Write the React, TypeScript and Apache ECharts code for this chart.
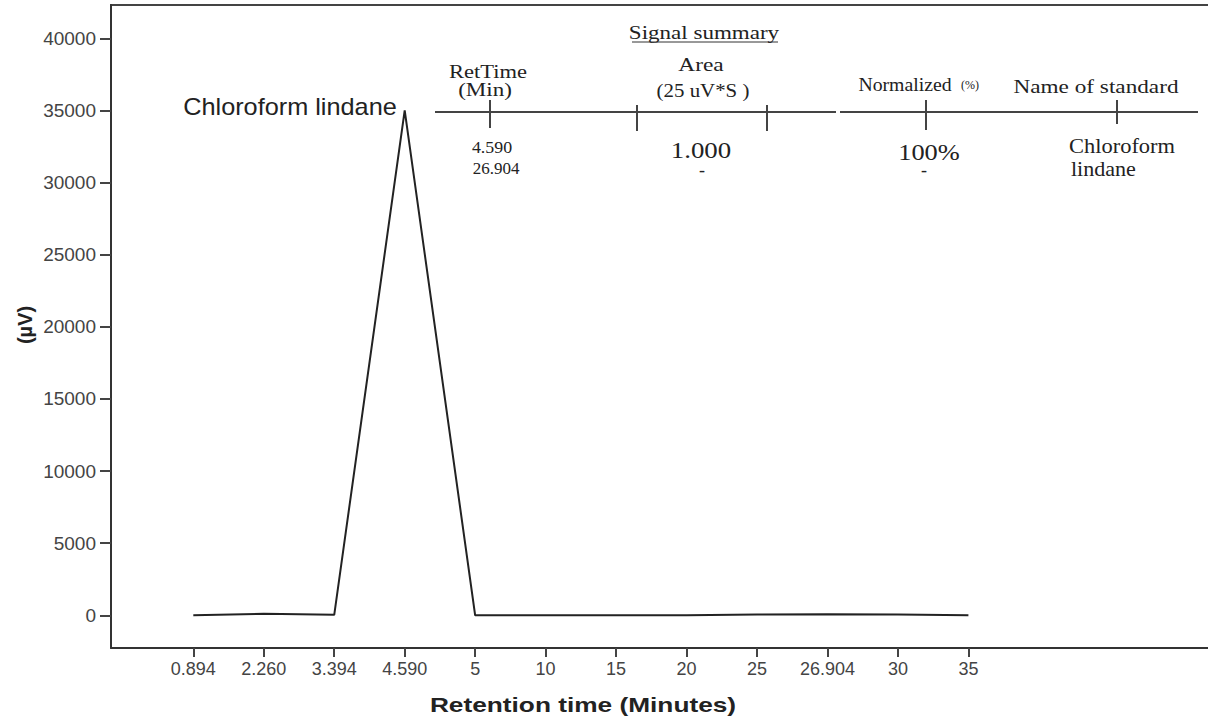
import React, { useEffect, useRef } from "react";
import * as echarts from "echarts";

const retentionLabels = ["0.894", "2.260", "3.394", "4.590", "5", "10", "15", "20", "25", "26.904", "30", "35"];
const signalValues = [0, 100, 30, 35000, 0, 0, 0, 0, 60, 70, 50, 0];
const yTickValues = [0, 5000, 10000, 15000, 20000, 25000, 30000, 35000, 40000];
const xTickIndices = retentionLabels.map((_, i) => i);

const peakName = "Chloroform lindane";
const summaryTitle = "Signal summary";
const retTimeRows = ["4.590", "26.904"];
const areaRows = ["1.000", "-"];
const normRows = ["100%", "-"];
const standardRows = ["Chloroform", "lindane"];

const SERIF = "Liberation Serif";
const SANS = "Liberation Sans";

function txt(text: string, x: number, y: number, size: number, scaleX = 1, align = "center", family = SERIF, weight = "normal", rotation = 0) {
  return {
    type: "text",
    x,
    y,
    scaleX,
    rotation,
    style: {
      text,
      fontFamily: family,
      fontSize: size,
      fontWeight: weight,
      fill: "#222",
      textAlign: align,
      textVerticalAlign: "middle",
    },
  };
}

function seg(x1: number, y1: number, x2: number, y2: number, w = 2, c = "#333") {
  return { type: "line", shape: { x1, y1, x2, y2 }, style: { stroke: c, lineWidth: w } };
}

export default function App() {
  const ref = useRef<HTMLDivElement>(null);
  useEffect(() => {
    if (!ref.current) return;
    const chart = echarts.init(ref.current, null, { renderer: "svg" });
    chart.setOption({
      animation: false,
      backgroundColor: "#fff",
      grid: { left: 111, right: 0, top: 5, bottom: 71, containLabel: false },
      xAxis: {
        type: "value",
        min: -1.168,
        max: 14.4,
        splitLine: { show: false },
        axisLine: { show: true, onZero: false, lineStyle: { color: "#333", width: 2 } },
        axisTick: { show: true, length: 9, customValues: xTickIndices, lineStyle: { color: "#444", width: 2 } },
        axisLabel: {
          customValues: xTickIndices,
          formatter: (v: number) => retentionLabels[Math.round(v)] ?? "",
          fontFamily: SANS,
          fontSize: 18,
          color: "#444",
          margin: 12,
        },
      },
      yAxis: {
        type: "value",
        min: -2268,
        max: 42310,
        splitLine: { show: false },
        axisLine: { show: true, onZero: false, lineStyle: { color: "#333", width: 2 } },
        axisTick: { show: true, length: 11, customValues: yTickValues, lineStyle: { color: "#444", width: 2 } },
        axisLabel: {
          customValues: yTickValues,
          formatter: (v: number) => String(v),
          fontFamily: SANS,
          fontSize: 19,
          color: "#444",
          margin: 15,
        },
      },
      series: [
        {
          type: "line",
          data: signalValues.map((v, i) => [i, v]),
          showSymbol: false,
          lineStyle: { color: "#222", width: 2 },
          itemStyle: { color: "#222" },
        },
      ],
      graphic: [
        seg(110, 5, 1208, 5, 2, "#444"),
        txt(peakName, 290, 107, 23, 1.1, "center", SANS),
        txt("Retention time (Minutes)", 583, 704, 21, 1.25, "center", SANS, "bold"),
        txt("(µV)", 25, 325, 20, 1, "center", SANS, "bold", Math.PI / 2),
        // summary table
        txt(summaryTitle, 704, 33, 18, 1.28),
        seg(632, 42, 778, 42, 1, "#333"),
        txt("RetTime", 488, 72, 18, 1.25),
        txt("(Min)", 485, 90, 18, 1.28),
        txt("Area", 701, 65, 18, 1.3),
        txt("(25 uV*S )", 703, 91, 18, 1.16),
        txt("Normalized", 905, 85, 19, 1.04),
        txt("(%)", 970, 85, 12, 1),
        txt("Name of standard", 1096, 87, 18, 1.29),
        seg(435, 112, 836, 112, 2, "#444"),
        seg(840, 112, 1198, 112, 2, "#444"),
        seg(490, 100, 490, 128, 2, "#444"),
        seg(637, 105, 637, 131, 2, "#444"),
        seg(767, 105, 767, 131, 2, "#444"),
        seg(926, 100, 926, 130, 2, "#444"),
        seg(1117, 100, 1117, 124, 2, "#444"),
        txt(retTimeRows[0], 492, 147, 17, 1.05),
        txt(retTimeRows[1], 496, 168, 17, 1),
        txt(areaRows[0], 701, 150, 24, 1.12),
        txt(areaRows[1], 702, 170, 18, 1),
        txt(normRows[0], 929, 152, 24, 1.1),
        txt(normRows[1], 924, 170, 18, 1),
        txt(standardRows[0], 1069, 146, 21, 1.07, "left"),
        txt(standardRows[1], 1071, 169, 21, 1.05, "left"),
      ],
    });
    return () => chart.dispose();
  }, []);
  return <div ref={ref} style={{ position: "absolute", left: 0, top: 0, width: 1208, height: 719 }} />;
}
